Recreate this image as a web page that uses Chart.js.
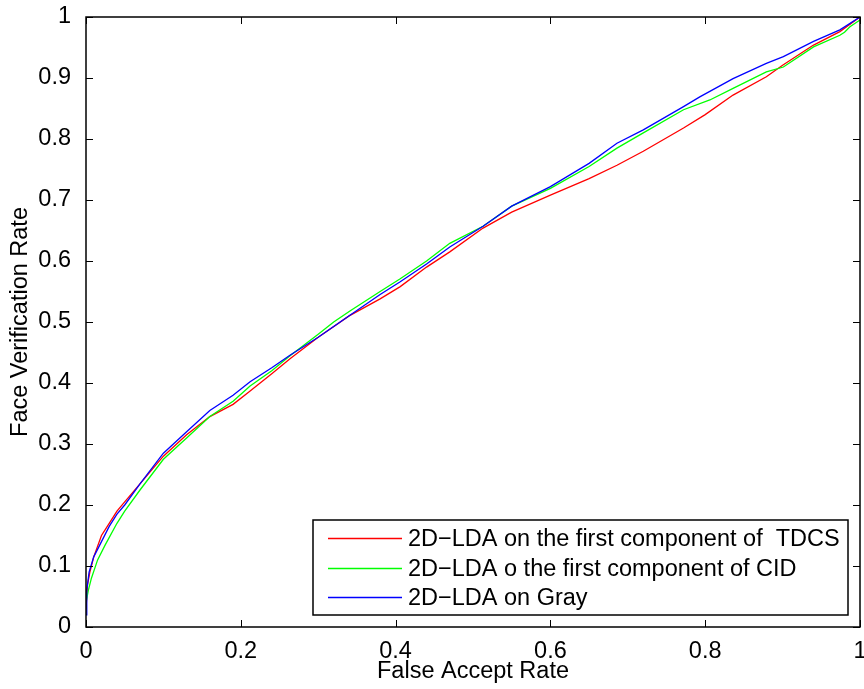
<!DOCTYPE html>
<html>
<head>
<meta charset="utf-8">
<script src="https://cdn.jsdelivr.net/npm/chart.js@4.4.1/dist/chart.umd.min.js"></script>
<style>
  body { margin: 0; background: #fff; }
  #wrap { width: 864px; height: 689px; }
</style>
</head>
<body>
<div id="wrap"><canvas id="rocChart" width="864" height="689"></canvas></div>
<script>
const seriesLabels = [
    '2D\u2212LDA on the first component of  TDCS',
    '2D\u2212LDA o the first component of CID',
    '2D\u2212LDA on Gray'
];
const seriesColors = ['#ff0000', '#00ff00', '#0000ff'];

// false accept rate / verification rate
const redFar = [0, 0.002, 0.005, 0.01, 0.02, 0.03, 0.04, 0.05, 0.07, 0.1, 0.13, 0.16, 0.19, 0.21, 0.24, 0.264, 0.3, 0.34, 0.38, 0.406, 0.44, 0.47, 0.513, 0.55, 0.6, 0.65, 0.686, 0.72, 0.772, 0.8, 0.836, 0.879, 0.9, 0.94, 0.974, 1];
const redVr  = [0.03, 0.07, 0.09, 0.115, 0.15, 0.17, 0.19, 0.205, 0.235, 0.28, 0.315, 0.345, 0.365, 0.385, 0.415, 0.44, 0.475, 0.51, 0.538, 0.558, 0.59, 0.615, 0.654, 0.68, 0.708, 0.735, 0.757, 0.78, 0.818, 0.84, 0.872, 0.902, 0.921, 0.954, 0.976, 1];

const greenFar = [0, 0.003, 0.007, 0.015, 0.025, 0.04, 0.05, 0.07, 0.1, 0.13, 0.16, 0.19, 0.212, 0.24, 0.264, 0.3, 0.32, 0.341, 0.38, 0.406, 0.44, 0.47, 0.513, 0.55, 0.6, 0.65, 0.686, 0.72, 0.772, 0.806, 0.836, 0.879, 0.901, 0.94, 0.974, 0.98, 0.987, 1];
const greenVr  = [0.04, 0.06, 0.08, 0.11, 0.135, 0.17, 0.19, 0.225, 0.275, 0.31, 0.345, 0.37, 0.395, 0.42, 0.445, 0.48, 0.5, 0.518, 0.55, 0.571, 0.6, 0.629, 0.657, 0.69, 0.719, 0.755, 0.785, 0.81, 0.848, 0.864, 0.883, 0.91, 0.918, 0.951, 0.97, 0.975, 0.984, 0.995];

const blueFar = [0, 0.001, 0.004, 0.01, 0.02, 0.03, 0.04, 0.05, 0.07, 0.1, 0.13, 0.16, 0.19, 0.212, 0.24, 0.264, 0.3, 0.341, 0.38, 0.406, 0.44, 0.47, 0.513, 0.55, 0.6, 0.65, 0.686, 0.72, 0.772, 0.793, 0.836, 0.879, 0.901, 0.94, 0.974, 1];
const blueVr  = [0.02, 0.06, 0.09, 0.115, 0.14, 0.165, 0.185, 0.2, 0.235, 0.285, 0.32, 0.355, 0.38, 0.402, 0.425, 0.446, 0.475, 0.511, 0.545, 0.566, 0.595, 0.623, 0.657, 0.69, 0.722, 0.76, 0.793, 0.815, 0.853, 0.869, 0.899, 0.924, 0.935, 0.96, 0.979, 1];

const xTicks = [0, 0.2, 0.4, 0.6, 0.8, 1];
const yTicks = [0, 0.1, 0.2, 0.3, 0.4, 0.5, 0.6, 0.7, 0.8, 0.9, 1];

const FONT = '"Liberation Sans", Arial, sans-serif';
const FONT_SIZE = 23.5;

function toPoints(xs, ys) {
    return xs.map((x, i) => ({ x: x, y: ys[i] }));
}

function tickText(v) {
    return String(+v.toFixed(1));
}

// matlab style box with inward ticks on all four sides
const boxPlugin = {
    id: 'matlabBox',
    afterDatasetsDraw(chart) {
        const { ctx, chartArea: a, scales } = chart;
        const len = 7;
        ctx.save();
        ctx.strokeStyle = '#000';
        ctx.lineWidth = 1;
        ctx.beginPath();
        xTicks.forEach(v => {
            const px = Math.round(scales.x.getPixelForValue(v)) + 0.5;
            ctx.moveTo(px, a.bottom); ctx.lineTo(px, a.bottom - len);
            ctx.moveTo(px, a.top); ctx.lineTo(px, a.top + len);
        });
        yTicks.forEach(v => {
            const py = Math.round(scales.y.getPixelForValue(v)) + 0.5;
            ctx.moveTo(a.left, py); ctx.lineTo(a.left + len, py);
            ctx.moveTo(a.right, py); ctx.lineTo(a.right - len, py);
        });
        ctx.stroke();
        ctx.lineWidth = 1.5;
        ctx.strokeRect(a.left, a.top, a.right - a.left, a.bottom - a.top);
        ctx.restore();
    },
    afterDraw(chart) {
        // legend box in the lower right corner
        const { ctx } = chart;
        const left = 313, top = 520, right = 848, bottom = 615;
        ctx.save();
        ctx.fillStyle = '#fff';
        ctx.fillRect(left, top, right - left, bottom - top);
        ctx.strokeStyle = '#000';
        ctx.lineWidth = 1.5;
        ctx.strokeRect(left, top, right - left, bottom - top);
        ctx.font = FONT_SIZE + 'px ' + FONT;
        ctx.textBaseline = 'middle';
        seriesLabels.forEach((label, i) => {
            const y = Math.round(538 + i * 29.5) + 0.5;
            ctx.strokeStyle = seriesColors[i];
            ctx.lineWidth = 1.3;
            ctx.beginPath();
            ctx.moveTo(328, y); ctx.lineTo(402, y);
            ctx.stroke();
            ctx.fillStyle = '#000';
            ctx.fillText(label, 408, y + 1);
        });
        ctx.restore();
    }
};

const ctx = document.getElementById('rocChart').getContext('2d');
const rocChart = new Chart(ctx, {
    type: 'line',
    data: {
        datasets: [
            { label: seriesLabels[0], data: toPoints(redFar, redVr), borderColor: seriesColors[0], order: 2 },
            { label: seriesLabels[1], data: toPoints(greenFar, greenVr), borderColor: seriesColors[1], order: 1 },
            { label: seriesLabels[2], data: toPoints(blueFar, blueVr), borderColor: seriesColors[2], order: 0 }
        ]
    },
    options: {
        responsive: false,
        animation: false,
        devicePixelRatio: 1,
        elements: {
            line: { borderWidth: 1.3, tension: 0, fill: false },
            point: { radius: 0 }
        },
        layout: { padding: { top: 17, right: 4, left: 0, bottom: 0 } },
        plugins: {
            legend: { display: false },
            tooltip: { enabled: false }
        },
        scales: {
            x: {
                type: 'linear',
                min: 0, max: 1,
                afterBuildTicks: s => { s.ticks = xTicks.map(v => ({ value: v })); },
                afterFit: s => { s.height = 62; s.paddingLeft = 0; s.paddingRight = 0; },
                grid: { display: false },
                border: { display: false },
                ticks: { color: '#000', font: { family: FONT, size: FONT_SIZE }, padding: 2, maxRotation: 0, callback: tickText },
                title: { display: true, text: 'False Accept Rate', color: '#000', font: { family: FONT, size: FONT_SIZE }, padding: { top: 0, bottom: 3 } }
            },
            y: {
                type: 'linear',
                min: 0, max: 1,
                afterBuildTicks: s => { s.ticks = yTicks.map(v => ({ value: v })); },
                afterFit: s => { s.width = 86; s.paddingTop = 0; s.paddingBottom = 0; },
                grid: { display: false },
                border: { display: false },
                ticks: { color: '#000', font: { family: FONT, size: FONT_SIZE }, padding: 7, callback: tickText },
                title: { display: true, text: 'Face Verification Rate', color: '#000', font: { family: FONT, size: FONT_SIZE }, padding: { top: 6, bottom: 4 } }
            }
        }
    },
    plugins: [boxPlugin]
});
</script>
</body>
</html>
